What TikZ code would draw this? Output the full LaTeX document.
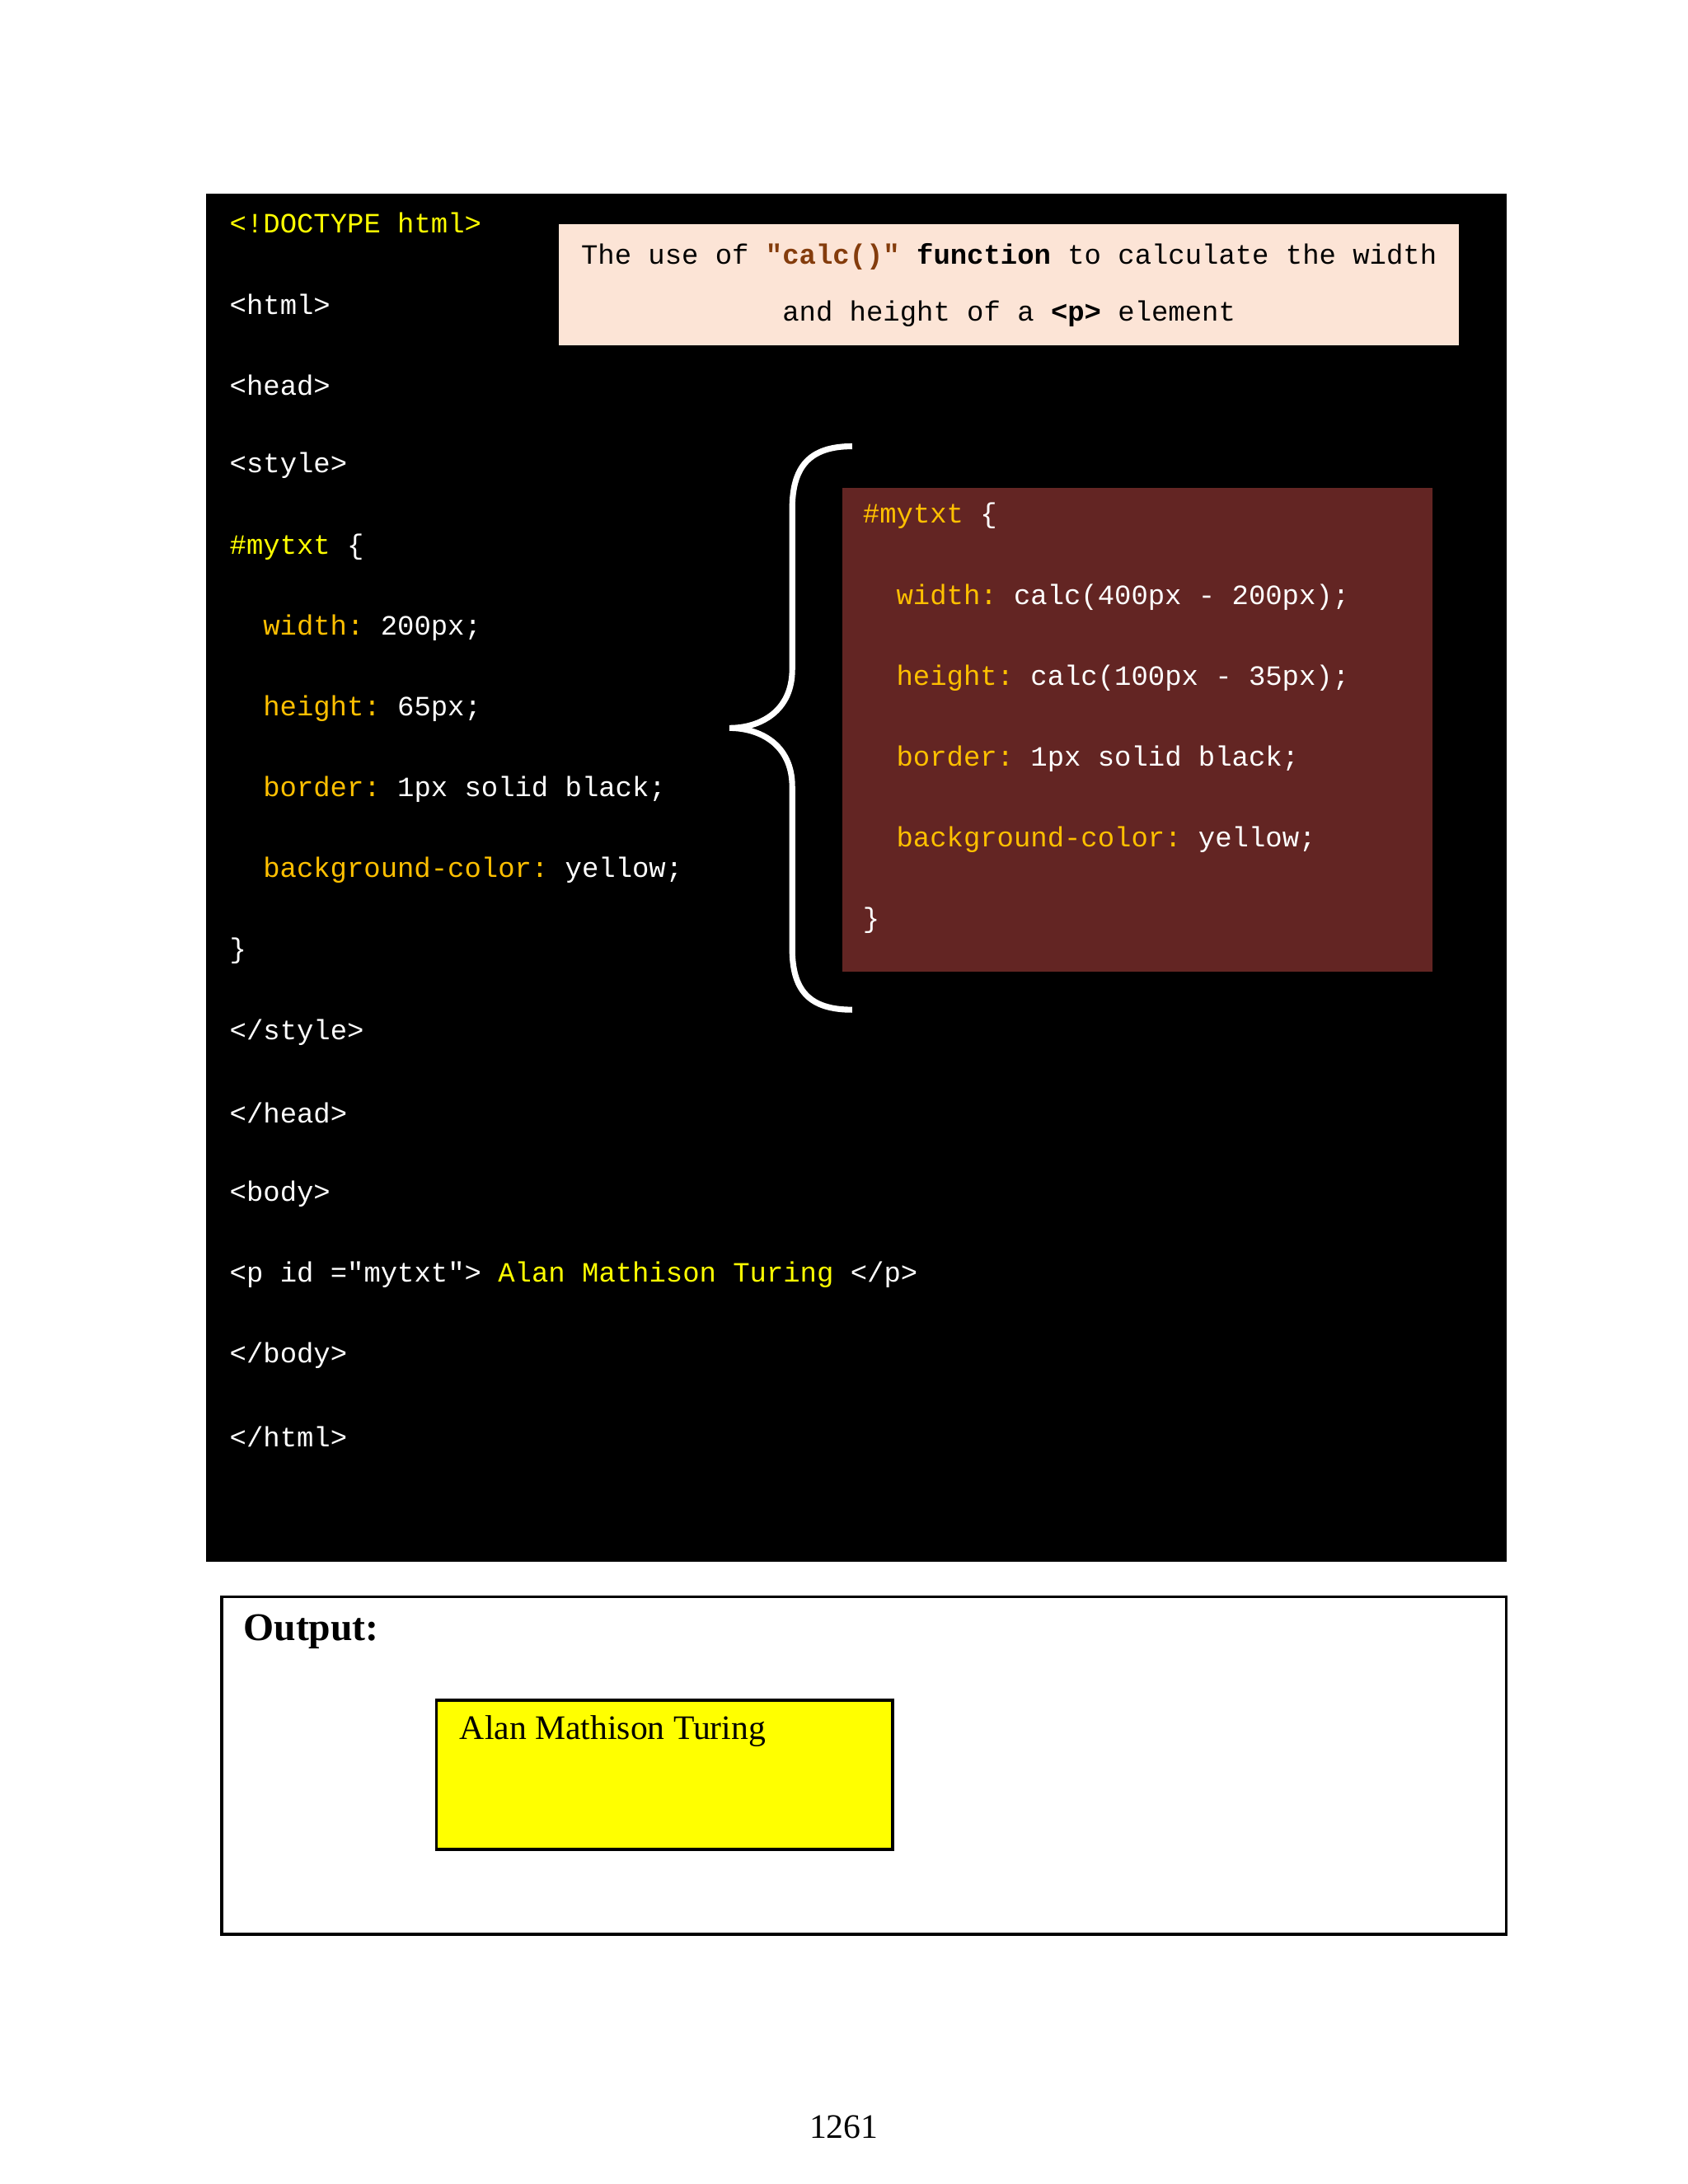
\documentclass[tikz,border=0pt]{standalone}
\usepackage{fontspec}
\setmainfont{Liberation Serif}
\setmonofont{Liberation Mono}
\definecolor{docyel}{HTML}{FFFF00}
\definecolor{propyel}{HTML}{FFC000}
\definecolor{notefill}{HTML}{FCE4D6}
\definecolor{calcbrown}{HTML}{843C0C}
\definecolor{ruleboxfill}{HTML}{632523}
\tikzset{
  code/.style={anchor=west, inner sep=0pt, text=white, font=\ttfamily\fontsize{5.7}{7}\selectfont},
  outtxt/.style={anchor=west, inner sep=0pt, font=\fontsize{7}{8}\selectfont}
}
\newcommand{\prop}[1]{\textcolor{propyel}{#1}}
\begin{document}
\begin{tikzpicture}[x=0.01cm, y=-0.01cm]
\useasboundingbox (0,0) rectangle (1210,1566);
\fill[black] (148,139) rectangle (1080,1120);
% note box
\node (note) [fill=notefill, minimum width=6.45cm, minimum height=0.87cm, align=center, anchor=north west,
  font=\ttfamily\fontsize{5.7}{11.6}\selectfont, inner sep=0pt] at (400,160)
  {The use of \textbf{\textcolor{calcbrown}{"calc()"}} \textbf{function} to calculate the width\\
   and height of a \textbf{<p>} element};
% left code
\node (l1) [code, text=docyel] at (164,160) {<!DOCTYPE html>};
\node (l2) [code] at (164,218) {<html>};
\node (l3) [code] at (164,276) {<head>};
\node (l4) [code] at (164,334) {<style>};
\node (l5) [code] at (164,392) {\textcolor{docyel}{\#mytxt} \{};
\node (l6) [code] at (188,450) {\prop{width:} 200px;};
\node (l7) [code] at (188,508) {\prop{height:} 65px;};
\node (l8) [code] at (188,566) {\prop{border:} 1px solid black;};
\node (l9) [code] at (188,624) {\prop{background-color:} yellow;};
\node (l10) [code] at (164,682) {\}};
\node (l11) [code] at (164,740) {</style>};
\node (l12) [code] at (164,798) {</head>};
\node (l13) [code] at (164,856) {<body>};
\node (l14) [code] at (164,914) {<p id ="mytxt"> \textcolor{docyel}{Alan Mathison Turing} </p>};
\node (l15) [code] at (164,972) {</body>};
\node (l16) [code] at (164,1030) {</html>};
% brace
\draw[white, line width=1.2pt] (611,320) .. controls (580,320) and (568,335) .. (568,365)
  -- (568,480) .. controls (568,510) and (545,522) .. (523,522)
  .. controls (545,522) and (568,534) .. (568,564)
  -- (568,680) .. controls (568,710) and (580,724) .. (611,724);
% rule box
\fill[ruleboxfill] (604,350) rectangle (1027,697);
\node (r1) [code] at (618,370) {\prop{\#mytxt} \{};
\node (r2) [code] at (642,428) {\prop{width:} calc(400px - 200px);};
\node (r3) [code] at (642,486) {\prop{height:} calc(100px - 35px);};
\node (r4) [code] at (642,544) {\prop{border:} 1px solid black;};
\node (r5) [code] at (642,602) {\prop{background-color:} yellow;};
\node (r6) [code] at (618,660) {\}};
% output
\draw[line width=0.6pt] (159,1145) rectangle (1080,1387);
\node (outlbl) [outtxt, font=\bfseries\fontsize{8}{9}\selectfont] at (174,1170) {Output:};
\draw[fill=docyel, line width=0.6pt] (313,1219) rectangle (640,1326);
\node (turing) [outtxt] at (329,1241) {Alan Mathison Turing};
\node (page) [font=\fontsize{7}{8}\selectfont] at (605,1525) {1261};
\end{tikzpicture}
\end{document}
